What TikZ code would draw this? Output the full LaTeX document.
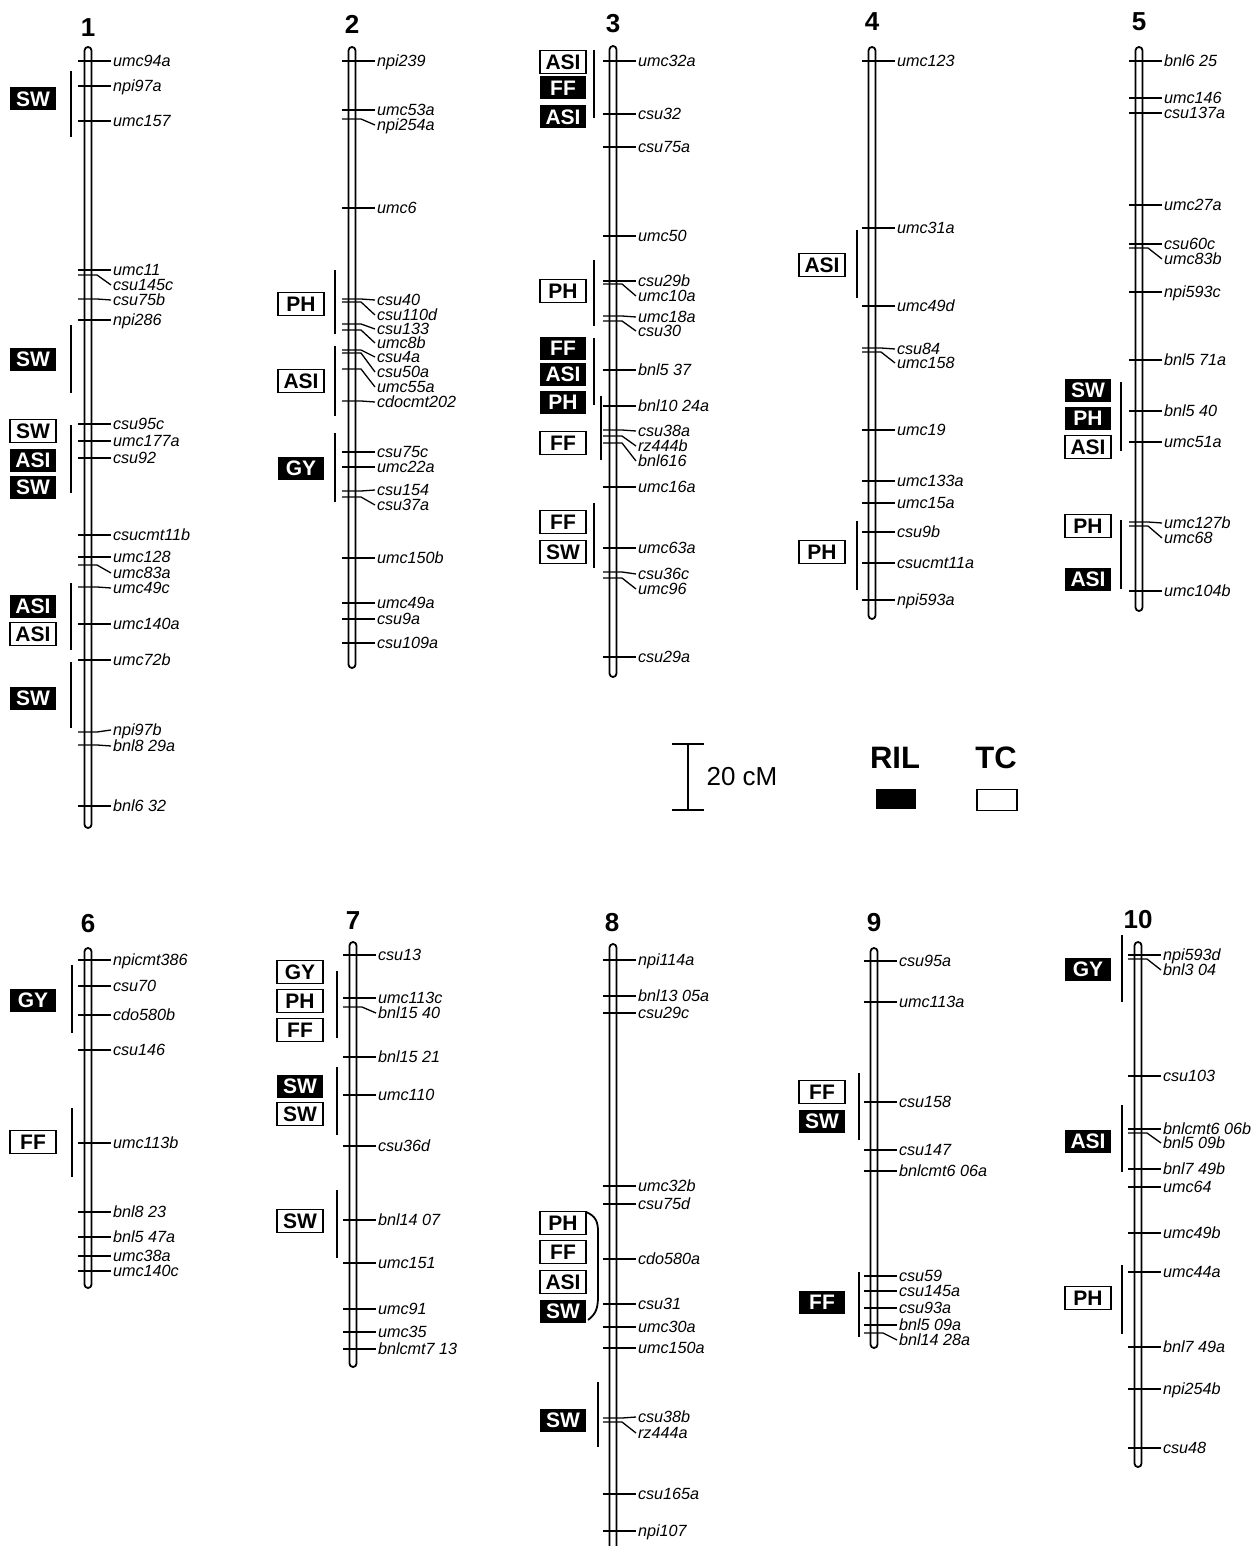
\documentclass[tikz,border=0pt]{standalone}
\usepackage{fontspec}
\setmainfont{Liberation Sans}
\tikzset{
  rod/.style      ={draw=black, line width=0.9pt, rounded corners=1.75pt},
  tickline/.style ={line width=0.65pt},
  qtlbar/.style   ={line width=1.3pt},
  bracketline/.style={line width=0.9pt},
  mlabel/.style   ={anchor=west, inner sep=0.8pt, text height=5.9pt, text depth=0pt,
                    font=\fontsize{8.1}{8.5}\selectfont\itshape},
  qbox/.style     ={minimum width=23pt, minimum height=11.5pt, inner sep=0pt,
                    font=\fontsize{10.5}{11}\selectfont\bfseries},
  rilbox/.style   ={qbox, fill=black, text=white},
  tcbox/.style    ={qbox, draw=black, line width=0.9pt, fill=white},
  chrnum/.style   ={font=\fontsize{13}{14}\selectfont\bfseries},
  legtitle/.style ={font=\fontsize{15.5}{16}\selectfont\bfseries},
}
% chromosome rod and its number: #1 number, #2 x, #3 top, #4 bottom, #5 y of number
\newcommand{\chromo}[5]{%
  \draw[rod] (#2-3.5,#3) rectangle (#2+3.5,#4);
  \node[chrnum] (c#1) at (#2,#5) {#1};}
% markers: #1 chromosome, #2 x of rod, #3 list tick-y/label-y/name
\newcommand{\markers}[3]{%
  \foreach \ty/\ly/\txt [count=\i] in {#3}{
    \node[mlabel] (m#1-\i) at (#2+23,\ly) {\txt};
    \coordinate (t#1-\i) at (#2-10,\ty);
    \draw[tickline] (t#1-\i) -- ++(19,0) -- (m#1-\i.west);
  }}

\begin{document}
\begin{tikzpicture}[x=0.5pt, y=-0.5pt]
  \useasboundingbox (0,0) rectangle (1251,1546);

  % chromosome 1
  \chromo{1}{88}{47}{828}{28}
  \markers{1}{88}{61/61/umc94a, 86/86/npi97a, 121/121/umc157, 270/270/umc11,
    275/285/csu145c, 299/300/csu75b, 320/320/npi286, 424/424/csu95c,
    441/441/umc177a, 458/458/csu92, 535/535/csucmt11b, 557/557/umc128,
    565/573/umc83a, 587/588/umc49c, 624/624/umc140a, 660/660/umc72b,
    732/730/npi97b, 745/746/bnl8 29a, 806/806/bnl6 32}
  \foreach \a/\b in {71/137, 325/393, 425/493, 583/650, 662/728}
    \draw[qtlbar] (71,\a) -- (71,\b);
  \foreach \y/\s/\t [count=\i] in {99/rilbox/SW, 359/rilbox/SW, 431/tcbox/SW,
    460/rilbox/ASI, 487/rilbox/SW, 606/rilbox/ASI, 634/tcbox/ASI, 698/rilbox/SW}
    \node[\s] (q1-\i) at (33,\y) {\t};

  % chromosome 2
  \chromo{2}{352}{47}{668}{24}
  \markers{2}{352}{61/61/npi239, 110/110/umc53a, 119/125/npi254a, 208/208/umc6,
    299/300/csu40, 302/315/csu110d, 324/329/csu133, 330/343/umc8b,
    350/357/csu4a, 353/372/csu50a, 369/387/umc55a, 401/402/cdocmt202,
    452/452/csu75c, 467/467/umc22a, 491/490/csu154, 497/505/csu37a,
    558/558/umc150b, 603/603/umc49a, 619/619/csu9a, 643/643/csu109a}
  \foreach \a/\b in {270/334, 346/416, 433/502}
    \draw[qtlbar] (335,\a) -- (335,\b);
  \foreach \y/\s/\t [count=\i] in {304/tcbox/PH, 381/tcbox/ASI, 468/rilbox/GY}
    \node[\s] (q2-\i) at (301,\y) {\t};

  % chromosome 3
  \chromo{3}{613}{46}{677}{24}
  \markers{3}{613}{61/61/umc32a, 114/114/csu32, 147/147/csu75a, 236/236/umc50,
    281/281/csu29b, 284/296/umc10a, 316/317/umc18a, 321/331/csu30,
    370/370/bnl5 37, 406/406/bnl10 24a, 430/431/csu38a, 436/446/rz444b,
    443/461/bnl616, 487/487/umc16a, 548/548/umc63a, 572/574/csu36c,
    578/589/umc96, 657/657/csu29a}
  \foreach \a/\b in {50/118, 260/326, 338/405, 503/568}
    \draw[qtlbar] (594,\a) -- (594,\b);
  \draw[qtlbar] (601,396) -- (601,460);
  \foreach \y/\s/\t [count=\i] in {62/tcbox/ASI, 88/rilbox/FF, 117/rilbox/ASI,
    291/tcbox/PH, 348/rilbox/FF, 374/rilbox/ASI, 402/rilbox/PH, 443/tcbox/FF,
    522/tcbox/FF, 552/tcbox/SW}
    \node[\s] (q3-\i) at (563,\y) {\t};

  % chromosome 4
  \chromo{4}{872}{47}{619}{22}
  \markers{4}{872}{61/61/umc123, 228/228/umc31a, 306/306/umc49d, 348/349/csu84,
    352/363/umc158, 430/430/umc19, 481/481/umc133a, 503/503/umc15a,
    532/532/csu9b, 563/563/csucmt11a, 600/600/npi593a}
  \foreach \a/\b in {230/298, 521/590}
    \draw[qtlbar] (857,\a) -- (857,\b);
  \foreach \y/\s/\t [count=\i] in {265/tcbox/ASI, 552/tcbox/PH}
    \node[\s] (q4-\i) at (822,\y) {\t};

  % chromosome 5
  \chromo{5}{1139}{47}{611}{22}
  \markers{5}{1139}{61/61/bnl6 25, 98/98/umc146, 113/113/csu137a, 205/205/umc27a,
    244/244/csu60c, 248/259/umc83b, 292/292/npi593c, 360/360/bnl5 71a,
    411/411/bnl5 40, 442/442/umc51a, 522/523/umc127b, 526/538/umc68,
    591/591/umc104b}
  \foreach \a/\b in {382/451, 520/589}
    \draw[qtlbar] (1121,\a) -- (1121,\b);
  \foreach \y/\s/\t [count=\i] in {390/rilbox/SW, 418/rilbox/PH, 447/tcbox/ASI,
    526/tcbox/PH, 579/rilbox/ASI}
    \node[\s] (q5-\i) at (1088,\y) {\t};

  % chromosome 6
  \chromo{6}{88}{948}{1288}{924}
  \markers{6}{88}{960/960/npicmt386, 986/986/csu70, 1015/1015/cdo580b,
    1050/1050/csu146, 1143/1143/umc113b, 1212/1212/bnl8 23,
    1237/1237/bnl5 47a, 1256/1256/umc38a, 1271/1271/umc140c}
  \foreach \a/\b in {965/1033, 1108/1177}
    \draw[qtlbar] (72,\a) -- (72,\b);
  \foreach \y/\s/\t [count=\i] in {1000/rilbox/GY, 1142/tcbox/FF}
    \node[\s] (q6-\i) at (33,\y) {\t};

  % chromosome 7
  \chromo{7}{353}{942}{1367}{921}
  \markers{7}{353}{955/955/csu13, 998/998/umc113c, 1007/1013/bnl15 40,
    1057/1057/bnl15 21, 1095/1095/umc110, 1146/1146/csu36d,
    1220/1220/bnl14 07, 1263/1263/umc151, 1309/1309/umc91,
    1332/1332/umc35, 1349/1349/bnlcmt7 13}
  \foreach \a/\b in {971/1038, 1067/1135, 1190/1258}
    \draw[qtlbar] (337,\a) -- (337,\b);
  \foreach \y/\s/\t [count=\i] in {972/tcbox/GY, 1001/tcbox/PH, 1030/tcbox/FF,
    1086/rilbox/SW, 1114/tcbox/SW, 1221/tcbox/SW}
    \node[\s] (q7-\i) at (300,\y) {\t};

  % chromosome 8 (runs off the page)
  \draw[rod] (609.5,1546) |- (616.5,944) -- (616.5,1546);
  \node[chrnum] (c8) at (612,923) {8};
  \markers{8}{613}{960/960/npi114a, 996/996/bnl13 05a, 1013/1013/csu29c,
    1186/1186/umc32b, 1204/1204/csu75d, 1259/1259/cdo580a, 1304/1304/csu31,
    1327/1327/umc30a, 1348/1348/umc150a, 1418/1417/csu38b,
    1422/1433/rz444a, 1494/1494/csu165a, 1531/1531/npi107}
  \draw[bracketline] (586,1212) .. controls (596,1216) and (598,1222) .. (598,1232)
    -- (598,1296) .. controls (598,1308) and (596,1314) .. (588,1320);
  \draw[qtlbar] (598,1382) -- (598,1447);
  \foreach \y/\s/\t [count=\i] in {1223/tcbox/PH, 1252/tcbox/FF, 1282/tcbox/ASI,
    1311/rilbox/SW, 1420/rilbox/SW}
    \node[\s] (q8-\i) at (563,\y) {\t};

  % chromosome 9
  \chromo{9}{874}{948}{1348}{923}
  \markers{9}{874}{961/961/csu95a, 1002/1002/umc113a, 1102/1102/csu158,
    1150/1150/csu147, 1171/1171/bnlcmt6 06a, 1276/1276/csu59,
    1291/1291/csu145a, 1308/1308/csu93a, 1325/1325/bnl5 09a,
    1333/1340/bnl14 28a}
  \foreach \a/\b in {1073/1140, 1272/1337}
    \draw[qtlbar] (859,\a) -- (859,\b);
  \foreach \y/\s/\t [count=\i] in {1092/tcbox/FF, 1121/rilbox/SW, 1302/rilbox/FF}
    \node[\s] (q9-\i) at (822,\y) {\t};

  % chromosome 10
  \chromo{10}{1138}{942}{1467}{920}
  \markers{10}{1138}{955/955/npi593d, 959/970/bnl3 04, 1076/1076/csu103,
    1129/1129/bnlcmt6 06b, 1133/1143/bnl5 09b, 1169/1169/bnl7 49b,
    1187/1187/umc64, 1233/1233/umc49b, 1272/1272/umc44a,
    1347/1347/bnl7 49a, 1389/1389/npi254b, 1448/1448/csu48}
  \foreach \a/\b in {935/1002, 1105/1172, 1265/1334}
    \draw[qtlbar] (1122,\a) -- (1122,\b);
  \foreach \y/\s/\t [count=\i] in {969/rilbox/GY, 1141/rilbox/ASI, 1298/tcbox/PH}
    \node[\s] (q10-\i) at (1088,\y) {\t};

  % scale and key
  \draw[line width=1pt] (672,744) -- (704,744) (688,744) -- (688,810)
    (672,810) -- (704,810);
  \node[font=\fontsize{13}{14}\selectfont] (scl) at (742,777) {20 cM};
  \node[legtitle] (ril) at (895,758) {RIL};
  \node[legtitle] (tc) at (996,758) {TC};
  \node[fill=black, minimum width=20pt, minimum height=10pt, inner sep=0pt]
    (rilkey) at (896,799) {};
  \node[draw=black, line width=0.9pt, minimum width=20pt, minimum height=10.5pt,
    inner sep=0pt] (tckey) at (997,800) {};
\end{tikzpicture}
\end{document}
